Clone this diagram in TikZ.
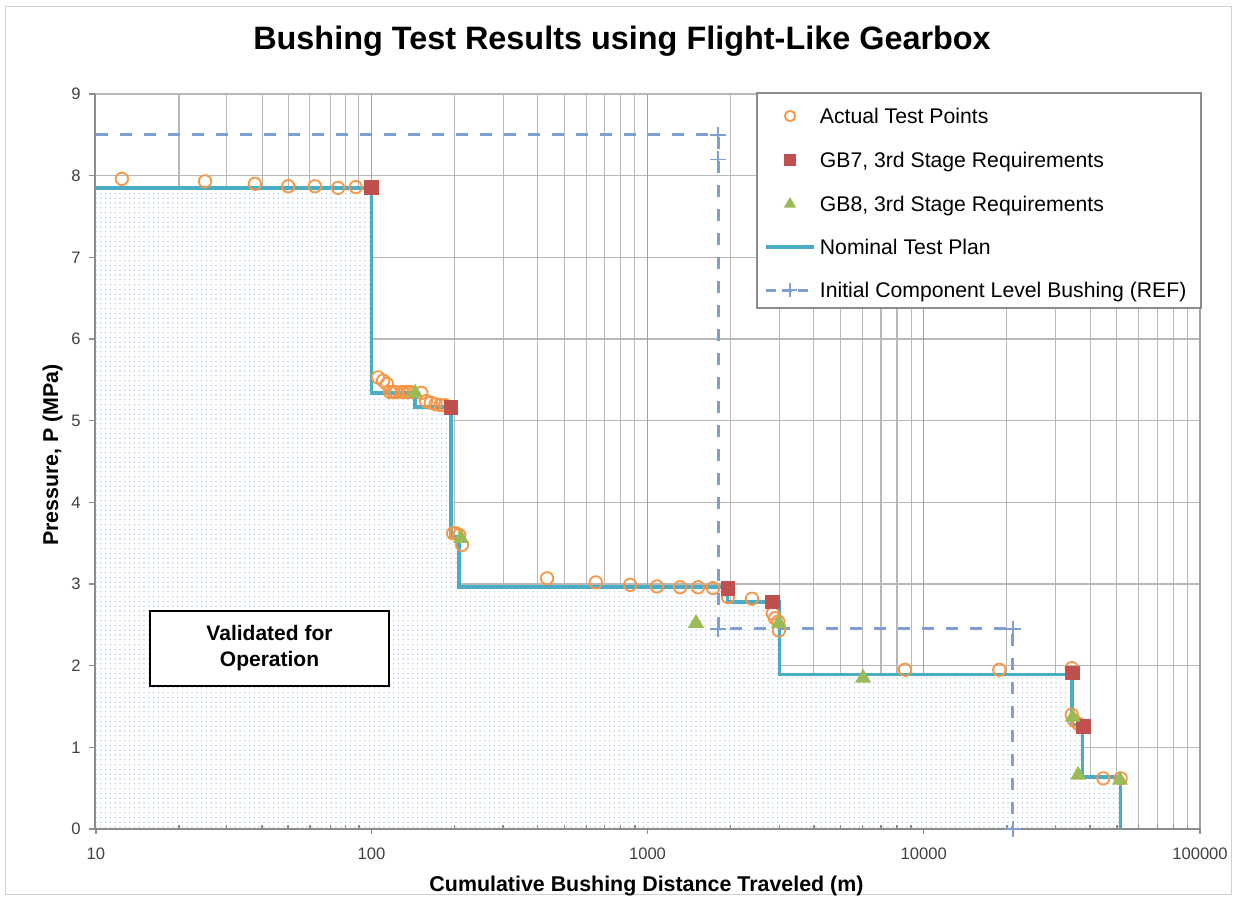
\documentclass[tikz,border=0pt]{standalone}
\usepackage{fontspec}
\setmainfont{Liberation Sans}
\usetikzlibrary{patterns,shapes.geometric}

\definecolor{plancyan}{HTML}{4BACC6}
\definecolor{ptorange}{HTML}{F79646}
\definecolor{gbred}{HTML}{C0504D}
\definecolor{gbgreen}{HTML}{9BBB59}
\definecolor{refblue}{HTML}{7F9FD3}
\definecolor{gridgrey}{HTML}{B8B8B8}
\definecolor{majorgrey}{HTML}{A0A0A0}
\definecolor{axisgrey}{HTML}{8C8C8C}
\definecolor{dotblue}{HTML}{B4C9E6}
\definecolor{ticktext}{HTML}{404040}
\definecolor{framegrey}{HTML}{D0D0D0}

% dot screen used for the validated region
\pgfdeclarepatternformonly{chartdots}{\pgfqpoint{-0.6pt}{-0.6pt}}{\pgfqpoint{0.6pt}{0.6pt}}{\pgfqpoint{2.4pt}{2.4pt}}{%
  \pgfpathcircle{\pgfqpoint{0pt}{0pt}}{0.4pt}\pgfusepath{fill}}

\begin{document}
\begin{tikzpicture}[x=0.5pt,y=-0.5pt,
  % distance in km on a log axis (10 m .. 100 km), pressure in MPa
  declare function={lx(\km)=95+276.25*(log10(\km)+2); py(\pr)=829-81.67*\pr;},
  grid/.style={draw=gridgrey,line width=0.55pt},
  majorgrid/.style={draw=majorgrey,line width=0.6pt},
  axisline/.style={draw=axisgrey,line width=0.7pt},
  plan/.style={draw=plancyan,line width=1.8pt},
  refline/.style={draw=refblue,line width=1.5pt,dash pattern=on 6pt off 6pt},
  plusmark/.style={draw=refblue,line width=0.8pt},
  chartfill/.style={fill=white,postaction={pattern=chartdots,pattern color=dotblue}},
  tp/.style={circle,draw=ptorange,line width=0.9pt,fill=none,inner sep=0pt,minimum size=6.2pt},
  gbsq/.style={rectangle,fill=gbred,inner sep=0pt,minimum size=7.4pt},
  gbtri/.style={regular polygon,regular polygon sides=3,fill=gbgreen,inner sep=0pt,minimum size=9.2pt},
  ticklab/.style={text=ticktext,inner sep=0pt,font=\fontsize{8.3}{10}\selectfont},
  legtext/.style={anchor=base west,inner sep=0pt,font=\fontsize{10.6}{12}\selectfont},
  axtitle/.style={inner sep=0pt,font=\fontsize{10.7}{12}\selectfont\bfseries},
  valbox/.style={draw=black,line width=0.6pt,fill=white,align=center,
    minimum width=119.5pt,minimum height=37.5pt,inner sep=0pt,
    font=\fontsize{10.5}{13}\selectfont\bfseries}]

\useasboundingbox (0,0) rectangle (1236,899);
\draw[framegrey,line width=0.5pt] (5,7) rectangle (1231,894);

% title
\node[anchor=base,inner sep=0pt,font=\fontsize{16.2}{19}\selectfont\bfseries] (title) at (622,50)
  {Bushing Test Results using Flight-Like Gearbox};

% grid
\foreach \v in {1,...,9} \draw[grid] (95,{py(\v)}) -- (1200,{py(\v)});
\foreach \e in {0.01,0.1,1,10} {
  \foreach \m in {2,...,9} \draw[grid] ({lx(\e*\m)},94) -- ({lx(\e*\m)},829);
}
\foreach \e in {0.1,1,10,100} \draw[majorgrid] ({lx(\e)},94) -- ({lx(\e)},829);

% nominal test plan corners
\foreach \n/\d/\p in {s0/0.01/7.85, s1/0.1/7.85, s2/0.1/5.34, s3/0.142/5.34, s4/0.142/5.17,
    s5/0.194/5.17, s6/0.194/3.58, s7/0.208/3.58, s8/0.208/2.96, s9/1.95/2.96, s10/1.95/2.78,
    s11/3.0/2.78, s12/3.0/1.89, s13/34.33/1.89, s14/34.33/1.27, s15/37.6/1.27, s16/37.6/0.64,
    s17/51.6/0.64, s18/51.6/0}
  \coordinate (\n) at ({lx(\d)},{py(\p)});
\coordinate (origin) at (95,829);

% validated region under the plan
\path[chartfill] (origin) -- (s0) \foreach \i in {1,...,18}{ -- (s\i)} -- cycle;

% axes and ticks
\draw[axisline] (95,94) -- (origin) -- (1200,829);
\foreach \v in {0,...,9} {
  \draw[axisline] (89,{py(\v)}) -- (95,{py(\v)});
  \node[ticklab,anchor=east] (yt\v) at (81,{py(\v)}) {\v};
}
\foreach \e in {0.01,0.1,1,10} {
  \foreach \m in {2,...,9} \draw[axisline] ({lx(\e*\m)},829) -- ({lx(\e*\m)},825);
}
\foreach \e/\t [count=\i] in {0.01/10,0.1/100,1/1000,10/10000,100/100000} {
  \draw[axisline] ({lx(\e)},829) -- ({lx(\e)},834);
  \node[ticklab] (xt\i) at ({lx(\e)},854) {\t};
}

% axis titles
\node[axtitle,anchor=base] (xtitle) at (646.5,891.5) {Cumulative Bushing Distance Traveled (m)};
\node[axtitle,anchor=base,rotate=90] (ytitle) at (58,455) {Pressure, P (MPa)};

% initial component level bushing (REF)
\foreach \n/\d/\p in {r0/0.01/8.5, r1/1.8/8.5, r2/1.8/8.2, r3/1.8/2.45, r4/21/2.45, r5/21/0}
  \coordinate (\n) at ({lx(\d)},{py(\p)});
\draw[refline] (r0) -- (r1) -- (r3) -- (r4) -- (r5);
\foreach \n in {r1,r2,r3,r4,r5}
  \draw[plusmark] (\n) ++(-8,0) -- ++(16,0) (\n) ++(0,-8) -- ++(0,16);

% nominal test plan
\draw[plan] (s0) \foreach \i in {1,...,18}{ -- (s\i)};

% actual test points
\foreach \d/\p [count=\i] in {0.0125/7.96, 0.025/7.93, 0.0375/7.90, 0.05/7.87, 0.0625/7.87,
    0.075/7.85, 0.0875/7.86,
    0.1057/5.53, 0.1103/5.49, 0.114/5.45, 0.1169/5.35, 0.1199/5.35, 0.1229/5.35, 0.126/5.35,
    0.129/5.35, 0.1326/5.35, 0.1359/5.35, 0.1502/5.34, 0.1566/5.24, 0.1632/5.22, 0.170/5.20,
    0.1776/5.19, 0.1846/5.19,
    0.1976/3.62, 0.2027/3.62, 0.208/3.60, 0.213/3.48,
    0.433/3.07, 0.650/3.02, 0.865/2.99, 1.082/2.97, 1.312/2.96, 1.524/2.96, 1.727/2.95,
    1.956/2.84, 2.39/2.82, 2.84/2.64, 2.894/2.58, 2.976/2.54, 2.99/2.43,
    8.55/1.95, 18.77/1.95, 34.33/1.97, 34.33/1.40, 35.0/1.33, 36.2/1.29, 44.67/0.62, 51.6/0.62}
  \node[tp] (tp\i) at ({lx(\d)},{py(\p)}) {};

% GB7 requirements
\foreach \d/\p [count=\i] in {0.1/7.85, 0.194/5.16, 1.956/2.94, 2.84/2.78, 34.6/1.91, 37.8/1.26}
  \node[gbsq] (gbs\i) at ({lx(\d)},{py(\p)}) {};

% GB8 requirements
\foreach \d/\p [count=\i] in {0.142/5.34, 0.211/3.56, 1.498/2.52, 2.99/2.52, 6.03/1.85,
    34.6/1.37, 36.2/0.66, 51.3/0.60}
  \node[gbtri] (gbt\i) at ({lx(\d)},{py(\p)}) {};

% legend
\draw[draw=axisgrey,line width=0.6pt,fill=white] (757,93) rectangle (1201,308);
\node[tp,minimum size=5.2pt] (lgm1) at (790,116) {};
\node[legtext] (lg1) at (819.5,123.5) {Actual Test Points};
\node[gbsq,minimum size=5.8pt] (lgm2) at (790,160) {};
\node[legtext] (lg2) at (819.5,167.5) {GB7, 3rd Stage Requirements};
\node[gbtri,minimum size=7pt] (lgm3) at (790,204) {};
\node[legtext] (lg3) at (819.5,211) {GB8, 3rd Stage Requirements};
\coordinate (lgl4a) at (766,247);
\coordinate (lgl4b) at (814,247);
\draw[plan] (lgl4a) -- (lgl4b);
\node[legtext] (lg4) at (819.5,254.5) {Nominal Test Plan};
\coordinate (lgl5a) at (766,290);
\coordinate (lgl5b) at (814,290);
\coordinate (lgm5) at (790,290);
\draw[refline,dash pattern=on 5pt off 3pt] (lgl5a) -- (lgl5b);
\draw[plusmark] (lgm5) ++(-7,0) -- ++(14,0) (lgm5) ++(0,-7) -- ++(0,14);
\node[legtext] (lg5) at (819.5,297.5) {Initial Component Level Bushing (REF)};

% annotation
\node[valbox] (valid) at (269.5,648.5) {Validated for\\Operation};
\end{tikzpicture}
\end{document}
